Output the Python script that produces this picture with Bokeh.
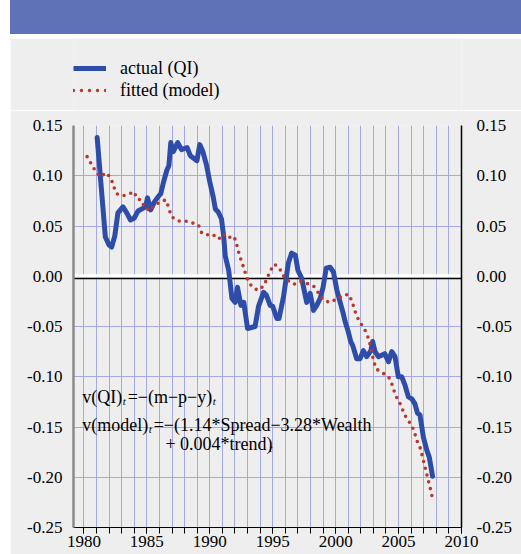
from bokeh.plotting import figure
from bokeh.models import (FixedTicker, LinearAxis, NumeralTickFormatter, Span,
                          Label, Legend, LegendItem, Range1d, Div)
from bokeh.layouts import column
from bokeh.embed import file_html
from bokeh.resources import INLINE

# ---------------- data ----------------
actual_year = [1981.05, 1981.7, 1982.0, 1982.2, 1982.45, 1982.7, 1983.1, 1983.4, 1983.7,
               1984.0, 1984.3, 1984.9, 1985.05, 1985.3, 1985.6, 1985.95, 1986.1, 1986.33,
               1986.6, 1986.75, 1986.9, 1987.1, 1987.45, 1987.75, 1988.2, 1988.45, 1988.98,
               1989.2, 1989.45, 1989.75, 1989.98, 1990.27, 1990.44, 1990.67, 1990.93, 1991.1,
               1991.23, 1991.5, 1991.76, 1992.02, 1992.2, 1992.47, 1992.7, 1993.0, 1993.6,
               1993.87, 1994.27, 1994.5, 1994.8, 1995.0, 1995.33, 1995.5, 1995.85, 1996.24,
               1996.5, 1996.8, 1997.0, 1997.3, 1997.7, 1997.97, 1998.24, 1998.5, 1998.77,
               1999.0, 1999.25, 1999.56, 1999.83, 2000.1, 2000.36, 2000.6, 2000.75, 2001.0,
               2001.2, 2001.36, 2001.67, 2001.94, 2002.2, 2002.47, 2002.8, 2002.94, 2003.13,
               2003.4, 2003.9, 2004.2, 2004.46, 2004.72, 2004.98, 2005.25, 2005.5, 2005.78,
               2006.05, 2006.3, 2006.5, 2006.7, 2006.97, 2007.24, 2007.44, 2007.7]
actual_val = [0.138, 0.039, 0.031, 0.029, 0.040, 0.063, 0.069, 0.063, 0.056,
              0.058, 0.065, 0.069, 0.078, 0.066, 0.074, 0.080, 0.082, 0.094,
              0.106, 0.110, 0.133, 0.124, 0.133, 0.126, 0.128, 0.120, 0.115,
              0.131, 0.124, 0.110, 0.095, 0.079, 0.067, 0.064, 0.057, 0.040,
              0.020, 0.006, -0.022, -0.026, -0.011, -0.029, -0.026, -0.052, -0.050,
              -0.030, -0.016, -0.019, -0.029, -0.030, -0.042, -0.042, -0.021, 0.013,
              0.023, 0.021, 0.006, -0.002, -0.026, -0.017, -0.034, -0.029, -0.022,
              -0.011, 0.008, 0.009, 0.004, -0.014, -0.026, -0.037, -0.045, -0.055,
              -0.065, -0.069, -0.082, -0.082, -0.074, -0.080, -0.074, -0.065, -0.075,
              -0.080, -0.077, -0.085, -0.075, -0.080, -0.100, -0.100, -0.108, -0.120,
              -0.122, -0.127, -0.136, -0.138, -0.160, -0.173, -0.180, -0.199]

fitted_year = [1980.25, 1980.57, 1980.9, 1981.28, 1981.79, 1982.16, 1982.37, 1982.6, 1983.1,
               1983.6, 1984.0, 1984.2, 1984.56, 1984.8, 1985.25, 1985.6, 1986.1, 1986.5,
               1986.75, 1986.9, 1987.1, 1987.5, 1988.05, 1988.63, 1989.1, 1989.3, 1989.62,
               1990.2, 1990.7, 1991.1, 1991.4, 1991.88, 1992.08, 1992.22, 1992.41, 1992.6,
               1992.8, 1993.0, 1993.32, 1993.8, 1994.27, 1994.56, 1994.78, 1995.14, 1995.54,
               1995.8, 1996.17, 1996.68, 1997.18, 1997.7, 1998.26, 1998.6, 1998.98, 1999.5,
               2000.06, 2000.6, 2001.04, 2001.3, 2001.47, 2001.68, 2002.0, 2002.35, 2002.58,
               2002.76, 2002.87, 2003.0, 2003.2, 2003.7, 2004.2, 2004.46, 2004.67, 2004.9,
               2005.22, 2005.43, 2005.75, 2006.1, 2006.3, 2006.5, 2006.76, 2006.9, 2007.07,
               2007.2, 2007.36, 2007.52, 2007.66]
fitted_val = [0.119, 0.112, 0.105, 0.099, 0.103, 0.097, 0.089, 0.082, 0.080,
              0.082, 0.084, 0.077, 0.076, 0.069, 0.065, 0.071, 0.074, 0.076,
              0.068, 0.061, 0.058, 0.055, 0.055, 0.053, 0.051, 0.044, 0.041,
              0.042, 0.037, 0.042, 0.038, 0.040, 0.035, 0.027, 0.019, 0.012,
              0.004, -0.003, -0.010, -0.014, -0.010, -0.002, 0.005, 0.012, 0.008,
              0.001, -0.004, -0.008, -0.005, -0.007, -0.010, -0.016, -0.023, -0.026,
              -0.023, -0.019, -0.018, -0.025, -0.032, -0.040, -0.047, -0.054, -0.061,
              -0.069, -0.076, -0.083, -0.092, -0.096, -0.100, -0.107, -0.115, -0.122,
              -0.129, -0.137, -0.143, -0.150, -0.157, -0.165, -0.172, -0.180, -0.188,
              -0.195, -0.203, -0.211, -0.219]

x_ticks = [1980, 1985, 1990, 1995, 2000, 2005, 2010]
x_year_ticks = [1979, 1980, 1981, 1982, 1983, 1984, 1985, 1986, 1987, 1988, 1989, 1990,
                1991, 1992, 1993, 1994, 1995, 1996, 1997, 1998, 1999, 2000, 2001, 2002,
                2003, 2004, 2005, 2006, 2007, 2008, 2009, 2010]
y_ticks = [-0.25, -0.20, -0.15, -0.10, -0.05, 0.0, 0.05, 0.10, 0.15]
series_labels = ["actual (QI)", "fitted (model)"]

# ---------------- styles ----------------
FONT = "Liberation Serif"
BLUE = "#2D4DA8"
RED = "#B8382C"
GRID = "#A4A9E6"
PANEL = "#EEEEEE"
HEADER = "#5F72B8"
TICK_FONT_SIZE = "17px"
TEXT_SIZE = "18px"

# header band
header = Div(text="", width=511, height=34, margin=(0, 0, 4, 10),
             styles={"background-color": HEADER})

# legend strip (its own small canvas; its frame is aligned with the chart's frame)
lg = figure(width=511, height=72, toolbar_location=None, output_backend="svg",
            x_axis_type=None, y_axis_type=None, min_border=0,
            x_range=Range1d(0, 1), y_range=Range1d(0, 1),
            background_fill_color=PANEL, border_fill_color=PANEL,
            outline_line_color=None, margin=(0, 0, 0, 10))
lg.grid.visible = False
# legend proxies: kept outside the visible ranges so only their legend glyphs show
lg_act = lg.line(x=[5, 6], y=[5, 6], line_color=BLUE, line_width=5)
lg_fit = lg.line(x=[5, 6], y=[5, 6], line_color=RED, line_width=3.5,
                 line_dash="0 8", line_cap="round")
legend = Legend(items=[LegendItem(label=series_labels[0], renderers=[lg_act]),
                       LegendItem(label=series_labels[1], renderers=[lg_fit])],
                location=(0, 9), orientation="vertical",
                glyph_width=33, glyph_height=22, label_height=22,
                label_standoff=14, padding=0, margin=0, spacing=0,
                border_line_color=None, background_fill_alpha=0,
                label_text_font=FONT, label_text_font_size=TEXT_SIZE,
                label_text_color="black")
lg.add_layout(legend, "center")

# main chart
p = figure(width=511, height=444, toolbar_location=None, output_backend="svg",
           x_range=Range1d(1979.17, 2010.0), y_range=Range1d(-0.25, 0.15),
           min_border_left=63, min_border_right=60, min_border_top=15, min_border_bottom=27,
           background_fill_color=PANEL, border_fill_color=PANEL,
           outline_line_color=None, margin=(0, 0, 0, 10))

# grids
p.xgrid.ticker = FixedTicker(ticks=x_year_ticks)
p.ygrid.ticker = FixedTicker(ticks=y_ticks)
p.grid.grid_line_color = GRID
p.grid.grid_line_width = 1

# zero line: white band with a thin black rule just beneath it
p.add_layout(Span(location=0.0004, dimension="width", line_color="white",
                  line_width=3, level="underlay"))
p.add_layout(Span(location=-0.0022, dimension="width", line_color="black",
                  line_width=1.4, level="underlay"))

# bottom axis
xa = p.xaxis[0]
xa.ticker = FixedTicker(ticks=x_ticks, minor_ticks=x_year_ticks)
xa.axis_line_color = "black"
xa.axis_line_width = 1
xa.major_tick_out = 6
xa.major_tick_in = 0
xa.minor_tick_out = 6
xa.minor_tick_in = 0
xa.major_tick_line_color = "black"
xa.minor_tick_line_color = "black"
xa.major_label_standoff = 2
xa.major_label_text_font = FONT
xa.major_label_text_font_size = TICK_FONT_SIZE
xa.major_label_text_color = "black"

# left axis
ya = p.yaxis[0]
ya.ticker = FixedTicker(ticks=y_ticks)
ya.formatter = NumeralTickFormatter(format="0.00")
ya.axis_line_color = "#8A8A8A"
ya.axis_line_width = 2.5
ya.major_tick_out = 0
ya.major_tick_in = 0
ya.minor_tick_line_color = None
ya.major_label_standoff = 11
ya.major_label_text_font = FONT
ya.major_label_text_font_size = TICK_FONT_SIZE
ya.major_label_text_color = "black"

# right axis
ra = LinearAxis(ticker=FixedTicker(ticks=y_ticks), formatter=NumeralTickFormatter(format="0.00"))
ra.axis_line_color = "black"
ra.axis_line_width = 1.5
ra.major_tick_out = 0
ra.major_tick_in = 0
ra.minor_tick_line_color = None
ra.major_label_standoff = 15
ra.major_label_text_font = FONT
ra.major_label_text_font_size = TICK_FONT_SIZE
ra.major_label_text_color = "black"
p.add_layout(ra, "right")

# series
p.line(actual_year, actual_val, line_color=BLUE, line_width=5,
       line_join="round", line_cap="round")
p.line(fitted_year, fitted_val, line_color=RED, line_width=3.6,
       line_dash="0 7", line_cap="round")

# equations (main text + italic subscripts)
EQ_X = 1979.857
EQ_Y1, EQ_Y2, EQ_Y3 = -0.1203, -0.1481, -0.1670


def add_text(x, y, xoff, txt, size=TEXT_SIZE, style="normal", yoff=0):
    p.add_layout(Label(x=x, y=y, x_offset=xoff, y_offset=yoff, text=txt,
                       text_font=FONT, text_font_size=size, text_font_style=style,
                       text_color="black", text_baseline="alphabetic",
                       text_align="left"))


add_text(EQ_X, EQ_Y1, 0, "v(QI)")
add_text(EQ_X, EQ_Y1, 40.5, "t", size="11px", style="italic", yoff=-4)
add_text(EQ_X, EQ_Y1, 45.5, "=\u2212(m\u2212p\u2212y)")
add_text(EQ_X, EQ_Y1, 130.5, "t", size="11px", style="italic", yoff=-4)

add_text(EQ_X, EQ_Y2, 0, "v(model)")
add_text(EQ_X, EQ_Y2, 66.5, "t", size="11px", style="italic", yoff=-4)
add_text(EQ_X, EQ_Y2, 71.5, "=\u2212(1.14*Spread\u22123.28*Wealth")

add_text(EQ_X, EQ_Y3, 83.3, "+ 0.004*trend)")
add_text(EQ_X, EQ_Y3, 187.0, "t", size="11px", style="italic", yoff=-4)

layout = column(header, lg, p, spacing=0)
open("out.html", "w").write(file_html(layout, INLINE))
